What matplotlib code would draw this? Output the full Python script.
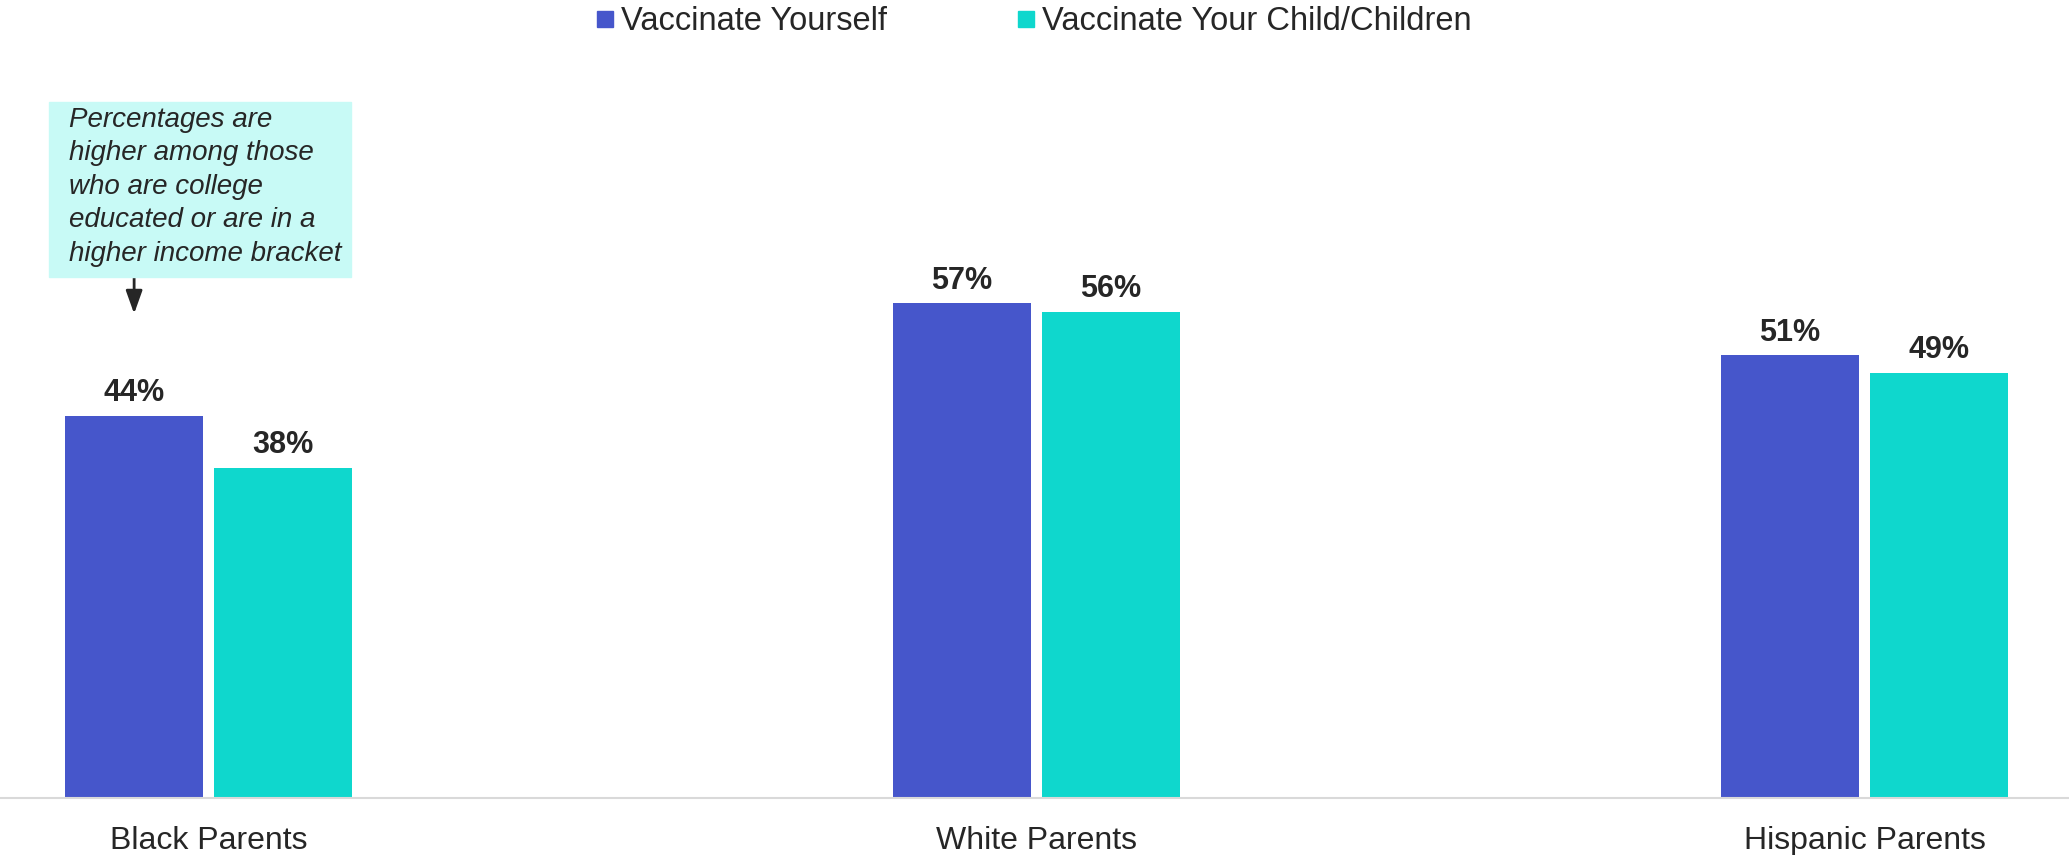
import matplotlib.pyplot as plt
from matplotlib.lines import Line2D
import numpy as np

plt.rcParams['font.family'] = ['Liberation Sans', 'DejaVu Sans']

groups = ["Black Parents", "White Parents", "Hispanic Parents"]
yourself = [44, 57, 51]
child = [38, 56, 49]
series_names = ["Vaccinate Yourself", "Vaccinate Your Child/Children"]
note = ("Percentages are\nhigher among those\nwho are college\n"
        "educated or are in a\nhigher income bracket")

BLUE = "#4656CB"
TEAL = "#0FD7CD"
TXT = "#262626"

fig = plt.figure(figsize=(20.69, 8.55), dpi=100)
ax = fig.add_axes([0, 0.0667, 1, 0.812])

x = np.arange(len(groups))
w = 0.166
off = 0.09
b1 = ax.bar(x - off, yourself, w, color=BLUE)
b2 = ax.bar(x + off, child, w, color=TEAL)

for bars, vals in ((b1, yourself), (b2, child)):
    for r, v in zip(bars, vals):
        ax.text(r.get_x() + r.get_width() / 2, v + 0.9, f"{v}%",
                ha="center", va="bottom", fontsize=22, fontweight="bold", color=TXT)

ax.set_xlim(-0.252, 2.247)
ax.set_ylim(0, 80)
ax.set_yticks([])
ax.set_xticks(x)
ax.set_xticklabels(groups, fontsize=23, color=TXT)
ax.tick_params(axis="x", length=0, pad=20)
for s in ["top", "right", "left"]:
    ax.spines[s].set_visible(False)
ax.spines["bottom"].set_color("#D9D9D9")
ax.spines["bottom"].set_linewidth(1.5)

# annotation box with arrow
fig.patches.append(plt.Rectangle((49 / 2069, 1 - 277 / 855), 302 / 2069, 175 / 855,
                                 transform=fig.transFigure, color="#C8FAF6", zorder=0))
fig.text(69 / 2069, 1 - 107 / 855, note, ha="left", va="top", fontsize=20,
         style="italic", color=TXT, linespacing=1.37)
ax.annotate("", xy=(x[0] - off, 55.8), xytext=(x[0] - off, 60.0),
            arrowprops=dict(arrowstyle="-|>,head_width=0.5,head_length=1.4",
                            color=TXT, lw=2, shrinkA=0, shrinkB=0))

handles = [Line2D([], [], marker="s", linestyle="", color=BLUE, markersize=12),
           Line2D([], [], marker="s", linestyle="", color=TEAL, markersize=12)]
fig.legend(handles, series_names, loc="center", bbox_to_anchor=(0.5, 1 - 22 / 855),
           ncol=2, frameon=False, fontsize=23.5, handlelength=0.5, handletextpad=0.25,
           columnspacing=4.0, labelcolor=TXT)

fig.savefig("out.png", dpi=100)
